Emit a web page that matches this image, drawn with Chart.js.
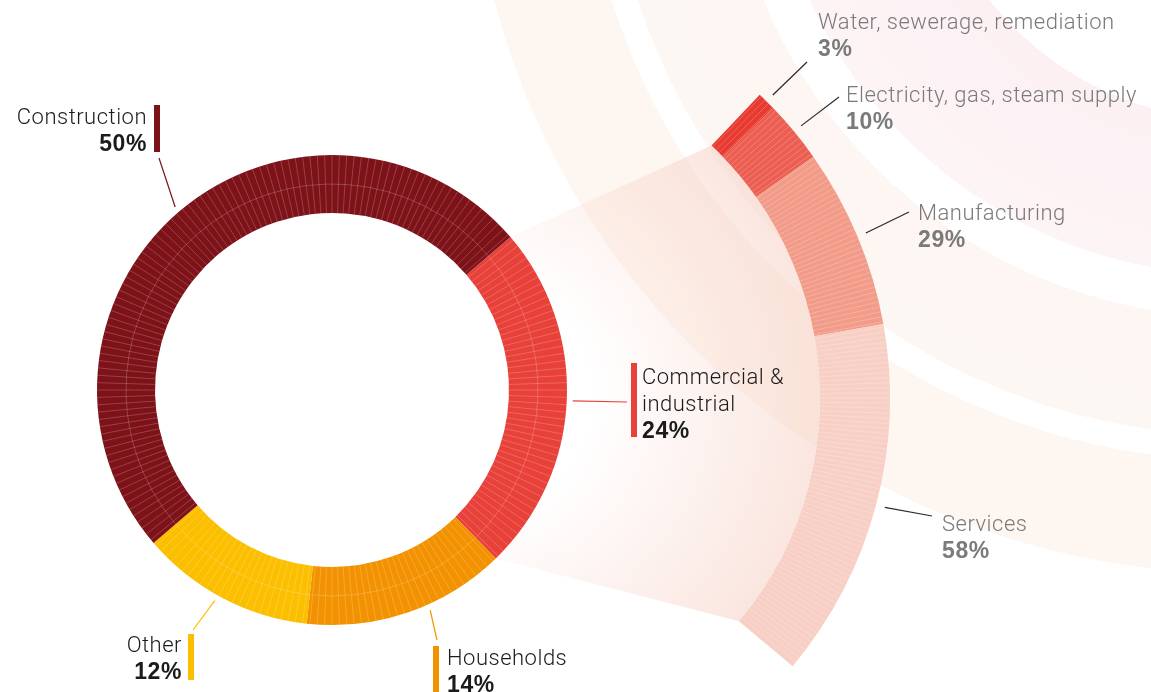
<!DOCTYPE html>
<html>
<head>
<meta charset="utf-8">
<script src="https://cdn.jsdelivr.net/npm/chart.js@4.4.0/dist/chart.umd.min.js"></script>
<style>
  html, body { margin: 0; padding: 0; }
  body {
    width: 1151px; height: 692px; overflow: hidden; position: relative;
    font-family: Roboto, "Liberation Sans", sans-serif;
    background: radial-gradient(circle at 1237px -195px,
      #fcf0f3 0, #fcf0f3 208px, #fff 208px, #fff 315px,
      #fcf0f3 315px, #fdf4f6 470px, #fff 470px, #fff 512px,
      #fdf6f3 512px, #fdf7f4 630px, #fff 630px, #fff 655px,
      #fef7f1 655px, #fef7f1 768px, #fff 768px);
  }
  canvas { position: absolute; }
  #sub { left: 54px; top: -20px; }
  #main { left: 0; top: 0; }
  .lab {
    position: absolute; font-size: 22px; line-height: 27px; font-weight: 300;
    letter-spacing: 0.5px; color: #1b1b1b; white-space: pre-line;
  }
  .lab b { font: bold 23px/27px "Liberation Sans", Arial, sans-serif; letter-spacing: 0.6px; }
  .lab.grey { color: #7a7a7a; }
  .bar { position: absolute; width: 6px; }
</style>
</head>
<body>
<canvas id="sub" width="1097" height="836"></canvas>
<canvas id="main" width="1151" height="692"></canvas>
<script>
// main split of the total
const mainLabels = ['Commercial &\nindustrial', 'Households', 'Other', 'Construction'];
const mainShares = [24, 14, 12, 50];
const mainColors = ['#e8413a', '#f39200', '#fbbf00', '#7d1219'];

// breakdown of commercial & industrial
const subLabels = ['Water, sewerage, remediation', 'Electricity, gas, steam supply', 'Manufacturing', 'Services'];
const subShares = [3, 10, 29, 58];
const subColors = ['#e83a30', '#ec5e52', '#f29b88', '#f8cfc4'];

// label placement (page px)
const mainLayout = [
  { left: 642, top: 363, bar: [631, 363, 74], frac: 0.5, end: [627, 402] },
  { left: 447, top: 644, bar: [433, 646, 50], frac: 0.4, end: [437, 640] },
  { right: 182, top: 631, bar: [188, 634, 46], frac: 0.53, end: [193, 630] },
  { right: 147, top: 103, bar: [154, 105, 47], frac: 0.5, end: [159, 158] }
];
const subLayout = [
  { left: 818, top: 8, end: [807, 62] },
  { left: 846, top: 81, end: [839, 97] },
  { left: 918, top: 199, end: [909, 212] },
  { left: 942, top: 510, end: [932, 516] }
];
const SUB_X = 54, SUB_Y = -20;

function makeTexture(step, color, rings, count) {
  return {
    id: 'texture',
    afterDatasetsDraw(chart) {
      const ctx = chart.ctx;
      const st = step * Math.PI / 180;
      chart.getDatasetMeta(0).data.slice(0, count).forEach(arc => {
        const { x, y, startAngle, endAngle, innerRadius, outerRadius } = arc;
        ctx.save();
        ctx.beginPath();
        ctx.arc(x, y, outerRadius, startAngle, endAngle);
        ctx.arc(x, y, innerRadius, endAngle, startAngle, true);
        ctx.closePath();
        ctx.clip();
        ctx.strokeStyle = color;
        ctx.lineWidth = 1;
        ctx.beginPath();
        for (let a = Math.ceil(startAngle / st) * st; a < endAngle; a += st) {
          ctx.moveTo(x + innerRadius * Math.cos(a), y + innerRadius * Math.sin(a));
          ctx.lineTo(x + outerRadius * Math.cos(a), y + outerRadius * Math.sin(a));
        }
        rings.forEach(f => {
          const r = innerRadius + (outerRadius - innerRadius) * f;
          ctx.moveTo(x + r * Math.cos(startAngle), y + r * Math.sin(startAngle));
          ctx.arc(x, y, r, startAngle, endAngle);
        });
        ctx.stroke();
        ctx.restore();
      });
    }
  };
}

function makeLeaders(items, colors, gap, ox, oy) {
  return {
    id: 'leaders',
    afterDraw(chart) {
      const ctx = chart.ctx;
      const arcs = chart.getDatasetMeta(0).data;
      items.forEach((it, i) => {
        const arc = arcs[i];
        const f = it.frac === undefined ? 0.5 : it.frac;
        const a = arc.startAngle + (arc.endAngle - arc.startAngle) * f;
        const r = arc.outerRadius + gap;
        ctx.save();
        ctx.strokeStyle = colors[i];
        ctx.lineWidth = 1.2;
        ctx.beginPath();
        ctx.moveTo(arc.x + r * Math.cos(a), arc.y + r * Math.sin(a));
        ctx.lineTo(it.end[0] - ox, it.end[1] - oy);
        ctx.stroke();
        ctx.restore();
      });
    }
  };
}

const mainChart = new Chart(document.getElementById('main'), {
  type: 'doughnut',
  data: { labels: mainLabels, datasets: [{ data: mainShares, backgroundColor: mainColors, borderWidth: 0 }] },
  options: {
    responsive: false, animation: false, events: [],
    rotation: 49.4, cutout: 177,
    layout: { padding: { left: 97, right: 584, top: 155, bottom: 67 } },
    plugins: { legend: { display: false }, tooltip: { enabled: false } }
  },
  plugins: [makeTexture(1.8, 'rgba(255,255,255,0.2)', [0.5], mainShares.length), makeLeaders(mainLayout, mainColors, 6, 0, 0)]
});

// connector between the commercial slice and its breakdown arc
const wedge = {
  id: 'wedge',
  beforeDatasetsDraw(chart) {
    const ctx = chart.ctx;
    const m = mainChart.getDatasetMeta(0).data[0];
    const arcs = chart.getDatasetMeta(0).data;
    const first = arcs[0], last = arcs[subShares.length - 1];
    const mx = m.x - SUB_X, my = m.y - SUB_Y;
    const sx = first.x, sy = first.y, ri = first.innerRadius;
    ctx.save();
    ctx.beginPath();
    ctx.moveTo(mx + m.outerRadius * Math.cos(m.startAngle), my + m.outerRadius * Math.sin(m.startAngle));
    ctx.lineTo(sx + ri * Math.cos(first.startAngle), sy + ri * Math.sin(first.startAngle));
    ctx.arc(sx, sy, ri, first.startAngle, last.endAngle);
    ctx.lineTo(mx + m.outerRadius * Math.cos(m.endAngle), my + m.outerRadius * Math.sin(m.endAngle));
    ctx.arc(mx, my, m.outerRadius, m.endAngle, m.startAngle, true);
    ctx.closePath();
    const g = ctx.createRadialGradient(sx, sy, ri - 230, sx, sy, ri);
    g.addColorStop(0, 'rgba(246,205,192,0)');
    g.addColorStop(1, 'rgba(246,205,192,0.5)');
    ctx.fillStyle = g;
    ctx.fill();
    ctx.restore();
  }
};

// the breakdown arc covers the same share of the circle as the commercial slice
const total = mainShares.reduce((s, v) => s + v, 0);
const subData = subShares.map(v => v * mainShares[0] / 100).concat([total - mainShares[0]]);
new Chart(document.getElementById('sub'), {
  type: 'doughnut',
  data: { labels: subLabels.concat(['']), datasets: [{ data: subData, backgroundColor: subColors.concat(['rgba(0,0,0,0)']), borderWidth: 0 }] },
  options: {
    responsive: false, animation: false, events: [],
    rotation: 43.5, cutout: 348,
    layout: { padding: { left: 0, right: 261, top: 0, bottom: 0 } },
    plugins: { legend: { display: false }, tooltip: { enabled: false } }
  },
  plugins: [wedge, makeTexture(0.7, 'rgba(255,255,255,0.22)', [], subShares.length), makeLeaders(subLayout, subColors.map(() => '#2a2a2a'), 9, SUB_X, SUB_Y)]
});

// text labels and colour bars
function addLabel(text, pct, pos, cls) {
  const d = document.createElement('div');
  d.className = 'lab' + (cls ? ' ' + cls : '');
  d.style.top = pos.top + 'px';
  if (pos.right !== undefined) { d.style.right = (1151 - pos.right) + 'px'; d.style.textAlign = 'right'; }
  else d.style.left = pos.left + 'px';
  d.textContent = text + '\n';
  const b = document.createElement('b');
  b.textContent = pct + '%';
  d.appendChild(b);
  document.body.appendChild(d);
}
mainLabels.forEach((t, i) => {
  addLabel(t, mainShares[i], mainLayout[i]);
  const bar = document.createElement('div');
  bar.className = 'bar';
  const [bx, by, bh] = mainLayout[i].bar;
  bar.style.left = bx + 'px'; bar.style.top = by + 'px'; bar.style.height = bh + 'px';
  bar.style.background = mainColors[i];
  document.body.appendChild(bar);
});
subLabels.forEach((t, i) => addLabel(t, subShares[i], subLayout[i], 'grey'));
</script>
</body>
</html>
